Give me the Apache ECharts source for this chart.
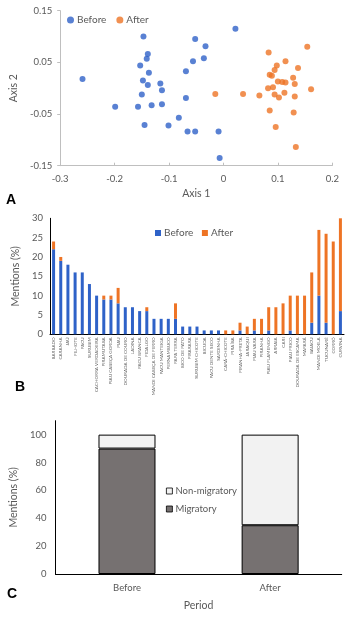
<!DOCTYPE html>
<html><head><meta charset="utf-8">
<script src="https://cdn.jsdelivr.net/npm/echarts@6/dist/echarts.min.js"></script>
<style>html,body{margin:0;padding:0;background:#fff}#c{width:360px;height:618px}</style>
</head><body><div id="c"></div>
<script>
// Panel A: ordination scatter
var beforeX = [-0.259,-0.147,-0.139,-0.141,-0.153,-0.137,-0.148,-0.139,-0.150,-0.199,-0.157,-0.132,-0.116,-0.113,-0.113,-0.145,-0.101,-0.082,-0.069,-0.069,-0.066,-0.052,-0.056,-0.052,-0.033,-0.036,0.022,-0.009,-0.007];
var beforeY = [0.018,0.100,0.066,0.057,0.044,0.030,0.015,0.006,-0.012,-0.036,-0.036,-0.033,0.009,-0.004,-0.031,-0.071,-0.072,-0.057,0.033,-0.019,-0.084,-0.084,0.052,0.095,0.081,0.058,0.115,-0.084,-0.135];
var afterX = [-0.015,0.036,0.066,0.083,0.082,0.091,0.085,0.089,0.094,0.098,0.114,0.100,0.108,0.114,0.094,0.102,0.112,0.128,0.131,0.137,0.131,0.129,0.085,0.096,0.154,0.161,0.133];
var afterY = [-0.011,-0.011,-0.014,0.069,0.000,0.002,0.026,0.024,0.035,0.044,0.052,0.013,0.012,0.011,-0.012,-0.018,-0.009,0.020,0.008,0.039,-0.016,-0.047,-0.043,-0.075,0.080,-0.002,-0.114];

// Panel B: mentions per species
var species = ['BARBADO','CARANHA','JAÚ','FILHOTE','PACU','SURUBIM','CACHORRA VERDADEIRA','PIRAMUTABA','PIAU CABEÇA GORDA','PIAU','DOURADA DE COURO','LADINA','PACU BRANCA','FIDALGO','MANDI CABEÇA DE FERRO','PACU MANTEIGA','PERNAMBUCO','PAPA TERRA','BICO DE PATO','PIRARARA','SURUBIM CHICOTE','BICUDA','PACU DENTE SECO','SARDINHA','CARÁ-CHICOTE','PIRAÍBA','PIRANHA-PRETA','JARAQUI','PIAU VARA','PIRANHA','PIAU FLAMENGO','ARRAIA','CARI','PIAU FRICO','DOURADA DE ESCAMA','MAPARÁ','BAIACU','MANDI MOELA','TUCUNARÉ','CORRÓ','CURVINA'];
var mentionsBefore = [22,19,18,16,16,13,10,9,9,8,7,7,6,6,4,4,4,4,2,2,2,1,1,1,0,0,1,0,1,0,1,0,0,1,0,0,3,10,3,0,6];
var mentionsAfter  = [2,1,0,0,0,0,0,1,1,4,0,0,0,1,0,0,0,4,0,0,0,0,0,0,1,1,2,2,3,4,6,7,8,9,10,10,13,17,23,24,24];

// Panel C: migratory share
var periods = ['Before','After'];
var migratory = [90,35];
var nonMigratory = [10,65];

var BLUE = '#2F62C8', ORANGE = '#EE7425', TXT = '#595959', FONT = 'Lato';

function zip(a,b){var r=[];for(var i=0;i<a.length;i++)r.push([a[i],b[i]]);return r;}

var chart = echarts.init(document.getElementById('c'), null, {renderer:'canvas'});
chart.setOption({
  animation:false,
  textStyle:{fontFamily:FONT},
  grid:[
    {left:50.7, width:281.6, top:10.7, height:155},
    {left:50, width:294, top:218.3, height:116},
    {left:51, width:290.7, top:420.7, height:153.3}
  ],
  legend:[
    {data:['Before','After'], left:62, top:10, itemWidth:7, itemHeight:7, itemGap:10, icon:'circle',
     textStyle:{fontSize:10, color:TXT, fontFamily:FONT, padding:[0,0,0,-2]}},
    {data:[{name:'Before ',icon:'rect'},{name:'After ',icon:'rect'}], left:150, top:223, itemWidth:6, itemHeight:6, itemGap:6,
     textStyle:{fontSize:10, color:TXT, fontFamily:FONT, padding:[0,0,0,-2]}},
    {data:['Non-migratory','Migratory'], orient:'vertical', left:161, top:481, itemWidth:6, itemHeight:6, itemGap:8, icon:'rect',
     itemStyle:{borderColor:'#000',borderWidth:0.8},
     textStyle:{fontSize:9.5, color:TXT, fontFamily:FONT, padding:[0,0,0,-2]}}
  ],
  xAxis:[
    {gridIndex:0, type:'value', min:-0.3, max:0.2, interval:0.1,
     axisLine:{onZero:false,lineStyle:{color:'#BFBFBF'}}, axisTick:{inside:true,length:3,lineStyle:{color:'#BFBFBF'}},
     splitLine:{show:false}, axisLabel:{fontSize:9.5,color:TXT,margin:8},
     name:'Axis 1', nameLocation:'middle', nameGap:22, nameTextStyle:{fontSize:10.5,color:TXT}},
    {gridIndex:1, type:'category', data:species,
     axisLine:{lineStyle:{color:'#000'}}, axisTick:{show:false},
     axisLabel:{interval:0, rotate:90, fontSize:4.6, color:TXT, margin:3}},
    {gridIndex:2, type:'category', data:periods,
     axisLine:{lineStyle:{color:'#000'}}, axisTick:{show:false},
     axisLabel:{fontSize:9.5,color:TXT,margin:9},
     name:'Period', nameLocation:'middle', nameGap:26, nameTextStyle:{fontSize:10.5,color:TXT}}
  ],
  yAxis:[
    {gridIndex:0, type:'value', min:-0.15, max:0.15, interval:0.1,
     axisLine:{show:true,onZero:false,lineStyle:{color:'#BFBFBF'}}, axisTick:{show:true,length:3,lineStyle:{color:'#BFBFBF'}},
     splitLine:{show:false},
     axisLabel:{fontSize:9.5,color:TXT,margin:8,formatter:function(v){return v.toFixed(2);}},
     name:'Axis 2', nameLocation:'middle', nameGap:32, nameTextStyle:{fontSize:10.5,color:TXT}},
    {gridIndex:1, type:'value', min:0, max:30, interval:5,
     axisLine:{show:true,lineStyle:{color:'#000'}}, axisTick:{show:false}, splitLine:{show:false},
     axisLabel:{fontSize:9.5,color:TXT,margin:7},
     name:'Mentions (%)', nameLocation:'middle', nameGap:24, nameTextStyle:{fontSize:10.5,color:TXT}},
    {gridIndex:2, type:'value', min:0, max:110, interval:20,
     axisLine:{show:true,lineStyle:{color:'#000'}}, axisTick:{show:false}, splitLine:{show:false},
     axisLabel:{fontSize:9.5,color:TXT,margin:9,showMaxLabel:false},
     name:'Mentions (%)', nameLocation:'middle', nameGap:28, nameTextStyle:{fontSize:10.5,color:TXT}}
  ],
  series:[
    {name:'Before', type:'scatter', xAxisIndex:0, yAxisIndex:0, data:zip(beforeX,beforeY), symbolSize:6, itemStyle:{color:BLUE}},
    {name:'After', type:'scatter', xAxisIndex:0, yAxisIndex:0, data:zip(afterX,afterY), symbolSize:6, itemStyle:{color:ORANGE}},
    {name:'Before ', type:'bar', xAxisIndex:1, yAxisIndex:1, stack:'b', data:mentionsBefore, barWidth:3, itemStyle:{color:BLUE}},
    {name:'After ', type:'bar', xAxisIndex:1, yAxisIndex:1, stack:'b', data:mentionsAfter, barWidth:3, itemStyle:{color:ORANGE}},
    {name:'Migratory', type:'bar', xAxisIndex:2, yAxisIndex:2, stack:'c', data:migratory, barWidth:57,
     itemStyle:{color:'#767171',borderColor:'#000',borderWidth:1}},
    {name:'Non-migratory', type:'bar', xAxisIndex:2, yAxisIndex:2, stack:'c', data:nonMigratory, barWidth:57,
     itemStyle:{color:'#F2F2F2',borderColor:'#000',borderWidth:1}}
  ],
  graphic:[
    {type:'text', left:6, top:193, style:{text:'A', font:'bold 14px Arial', fill:'#000'}},
    {type:'text', left:15, top:380, style:{text:'B', font:'bold 14px Arial', fill:'#000'}},
    {type:'text', left:7, top:587, style:{text:'C', font:'bold 14px Arial', fill:'#000'}}
  ]
});
</script></body></html>
